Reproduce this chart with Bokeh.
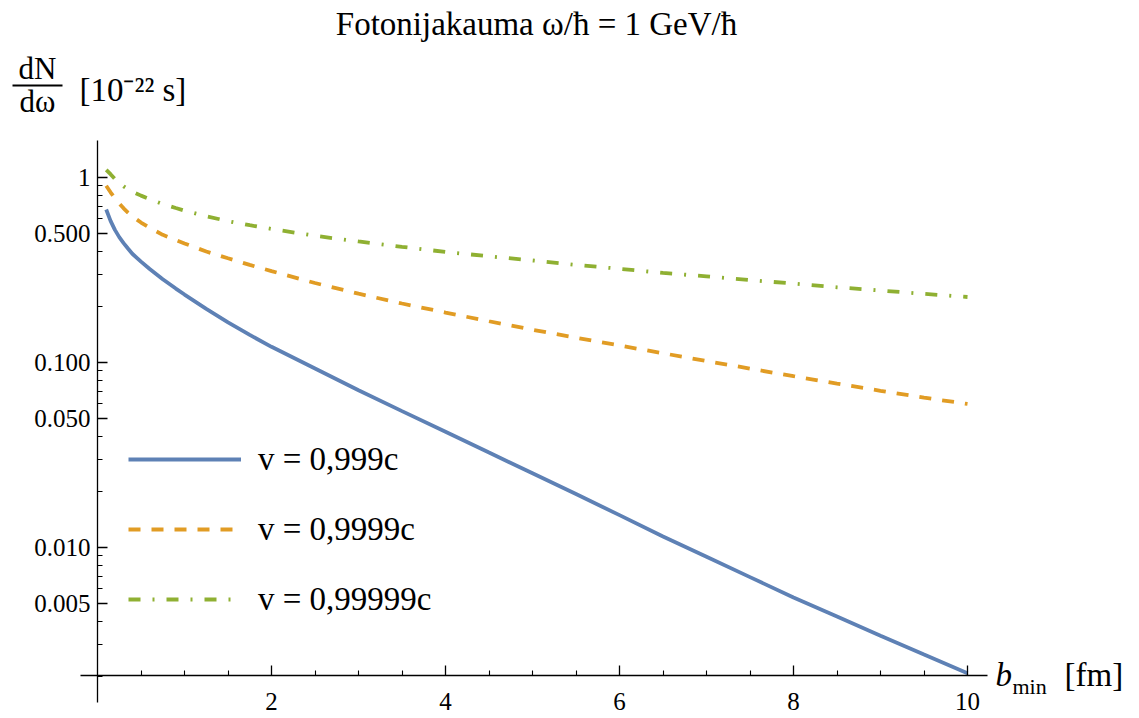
from bokeh.plotting import figure
from bokeh.models import (LinearAxis, LogAxis, FixedTicker, PrintfTickFormatter, Legend, LegendItem,
                          Label, BoxAnnotation, Range1d)
from bokeh.embed import file_html
from bokeh.resources import INLINE

# ---- data ----
b_min = [0.1, 0.15, 0.2, 0.25, 0.3, 0.35, 0.4, 0.5, 0.6, 0.75, 0.9, 1.0, 1.25, 1.5, 1.75,
         2.0, 2.5, 3.0, 3.5, 4.0, 4.5, 5.0, 5.5, 6.0, 6.5, 7.0, 7.5, 8.0, 8.5, 9.0, 9.5, 10.0]
dn_0999 = [0.671, 0.583, 0.521, 0.476, 0.442, 0.413, 0.387, 0.351, 0.320, 0.282, 0.251,
           0.233, 0.195, 0.165, 0.141, 0.1216, 0.0929, 0.0708, 0.0546, 0.0422, 0.0326,
           0.0252, 0.01945, 0.01496, 0.01148, 0.00891, 0.00692, 0.00537, 0.00424, 0.00334,
           0.00264, 0.00209]
dn_09999 = [0.902, 0.832, 0.773, 0.724, 0.681, 0.646, 0.617, 0.571, 0.535, 0.490, 0.459,
            0.440, 0.398, 0.366, 0.337, 0.312, 0.269, 0.2355, 0.2084, 0.1862, 0.1671,
            0.1503, 0.1361, 0.1236, 0.1122, 0.1019, 0.0927, 0.0843, 0.0769, 0.0703,
            0.0646, 0.0597]
dn_099999 = [1.10, 1.042, 0.982, 0.933, 0.895, 0.865, 0.839, 0.798, 0.764, 0.719, 0.684,
             0.662, 0.617, 0.581, 0.552, 0.527, 0.484, 0.451, 0.422, 0.396, 0.375, 0.356,
             0.337, 0.321, 0.305, 0.292, 0.279, 0.267, 0.255, 0.245, 0.235, 0.226]
series_labels = ["v = 0,999c", "v = 0,9999c", "v = 0,99999c"]
x_major_ticks = [2, 4, 6, 8, 10]
x_minor_ticks = [0.5, 1.0, 1.5, 2.5, 3.0, 3.5, 4.5, 5.0, 5.5, 6.5, 7.0, 7.5, 8.5, 9.0, 9.5]
y_major_ticks = [0.005, 0.01, 0.05, 0.1, 0.5, 1]
y_minor_ticks = [0.002, 0.003, 0.004, 0.006, 0.007, 0.008, 0.009,
                 0.02, 0.03, 0.04, 0.06, 0.07, 0.08, 0.09,
                 0.2, 0.3, 0.4, 0.6, 0.7, 0.8, 0.9]
title_text = "Fotonijakauma ω/ħ = 1 GeV/ħ"

FONT = "Liberation Serif"
W, H = 1139, 718

# the plot frame fills the whole canvas; the axes are placed inside it
p = figure(width=W, height=H, y_axis_type="log",
           x_range=Range1d(-1.115, 11.977), y_range=Range1d(0.001191, 9.05),
           x_axis_location=None, y_axis_location=None,
           min_border=0, output_backend="svg", toolbar_location=None)
p.grid.visible = False
p.outline_line_color = None
p.background_fill_color = "white"
p.border_fill_color = "white"

xaxis = LinearAxis(fixed_location=0.00203, bounds=(-0.195, 10.23),
                   ticker=FixedTicker(ticks=x_major_ticks, minor_ticks=x_minor_ticks))
xaxis.major_tick_in = 10
xaxis.major_tick_out = 0
xaxis.minor_tick_in = 5
xaxis.minor_tick_out = 0
xaxis.major_label_standoff = 17
p.add_layout(xaxis, "below")

yaxis = LogAxis(fixed_location=0, bounds=(0.00146, 1.59),
                ticker=FixedTicker(ticks=y_major_ticks, minor_ticks=y_minor_ticks),
                formatter=PrintfTickFormatter(format="%.3f"))
yaxis.major_label_overrides = {1: "1"}
yaxis.major_tick_in = 10
yaxis.major_tick_out = 0
yaxis.minor_tick_in = 5
yaxis.minor_tick_out = 0
yaxis.major_label_standoff = 7
p.add_layout(yaxis, "left")

for ax in (xaxis, yaxis):
    ax.axis_line_color = "black"
    ax.axis_line_width = 1.3
    ax.major_tick_line_color = "black"
    ax.major_tick_line_width = 1.3
    ax.minor_tick_line_color = "black"
    ax.minor_tick_line_width = 1.1
    ax.major_label_text_font = FONT
    ax.major_label_text_font_size = "25px"
    ax.major_label_text_color = "black"

r1 = p.line(b_min, dn_0999, line_color="#5E81B5", line_width=3.8)
r2 = p.line(b_min, dn_09999, line_color="#E19C24", line_width=3.8, line_dash="12 11")
r3 = p.line(b_min, dn_099999, line_color="#8FB032", line_width=3.8, line_dash="12 12 2 12")

legend = Legend(items=[LegendItem(label=series_labels[0], renderers=[r1]),
                       LegendItem(label=series_labels[1], renderers=[r2]),
                       LegendItem(label=series_labels[2], renderers=[r3])],
                location=(128, 89), glyph_width=113, glyph_height=60, label_height=60,
                spacing=10, label_standoff=17, padding=0, margin=0,
                border_line_color=None, background_fill_alpha=0,
                label_text_font=FONT, label_text_font_size="33px", label_text_color="black")
p.add_layout(legend)


def lab(text, cx, cy, size, align="left", style="normal"):
    p.add_layout(Label(x=cx, y=H - cy, x_units="screen", y_units="screen", text=text,
                       text_font=FONT, text_font_size=size, text_font_style=style,
                       text_align=align, text_baseline="middle", text_color="black"))


# title
lab(title_text, 536, 23, "33px", "center")

# y-axis label: dN/dω [10⁻²² s]
lab("dN", 37, 68, "31px", "center")
lab("dω", 37, 101, "31px", "center")
p.add_layout(BoxAnnotation(left=12, right=62, top=H - 84, bottom=H - 86,
                           left_units="screen", right_units="screen",
                           top_units="screen", bottom_units="screen",
                           fill_color="black", fill_alpha=1, line_color=None))
lab("[10⁻²² s]", 79, 89, "33px", "left")

# x-axis label: b_min [fm]
lab("b", 995, 674, "33px", "left", "italic")
lab("min", 1012, 686, "22px", "left")
lab("[fm]", 1064, 674, "33px", "left")

open("out.html", "w").write(file_html(p, INLINE))
